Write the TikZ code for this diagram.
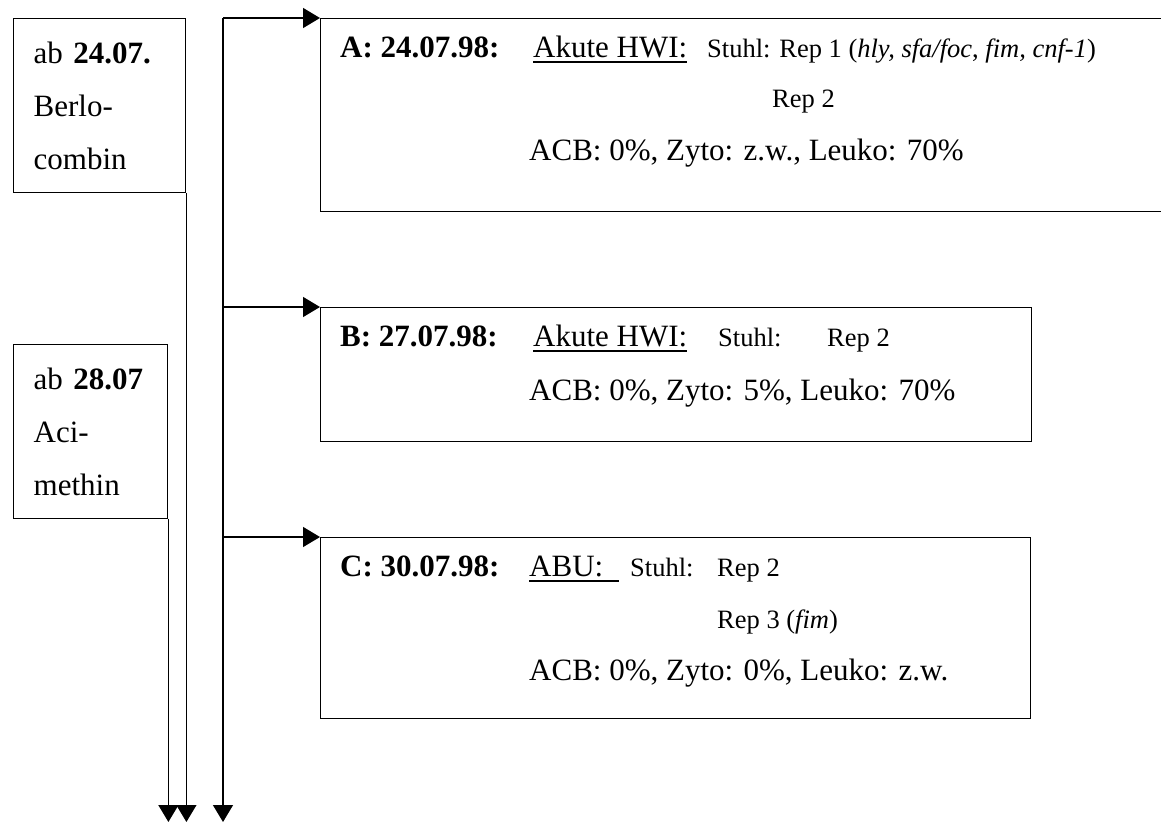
\documentclass[tikz,border=0pt]{standalone}
\usepackage{fontspec}
\setmainfont{Liberation Serif}
\usetikzlibrary{arrows.meta,positioning}
\newcommand{\bigfnt}{\fontsize{31}{53}\selectfont}
\newcommand{\smfnt}{\fontsize{26.5}{32}\selectfont}
\newcommand{\ulin}[1]{\setbox0\hbox{#1}\rlap{\rule[-5.5pt]{\wd0}{1.7pt}}\box0}
\tikzset{
  drug/.style ={draw,line width=1.4pt,align=left,anchor=north west,
                inner xsep=20pt,font=\bigfnt},
  visit/.style={draw,line width=1.4pt,anchor=north west,inner sep=0pt},
  txt/.style  ={anchor=base west,inner sep=0pt,font=\bigfnt},
  stxt/.style ={anchor=base west,inner sep=0pt,font=\smfnt},
  ar/.style   ={-{Triangle[length=17pt,width=20pt]},line width=1.4pt},
}

\begin{document}
\begin{tikzpicture}[x=1pt,y=-1pt]
\clip (0,0) rectangle (1161,823);
% medication boxes (left)
\node[drug,text width=132pt,minimum height=174pt] (berlo) at (13,18)
  {ab \textbf{24.07.}\\Berlo-\\combin};
\node[drug,text width=114pt,minimum height=174pt] (aci) at (13,344)
  {ab \textbf{28.07}\\Aci-\\methin};

% ---- visit boxes ------------------------------------------------------
\node[visit,minimum width=900pt,minimum height=193pt] (A) at (320,18) {};
\node[visit,minimum width=711pt,minimum height=134pt] (B) at (320,307) {};
\node[visit,minimum width=710pt,minimum height=181pt] (C) at (320,537) {};

% visit A
\node[txt] (Adate) at (340,57) {\textbf{A: 24.07.98:}};
\node[txt] (Adiag) at (533,57) {\ulin{Akute HWI:}};
\node[stxt] (Astuhl) at (707,57)
  {Stuhl: Rep 1 (\textit{hly, sfa/foc}, \textit{fim, cnf-1})};
\node[stxt] (Arep) at (772,107) {Rep 2};
\node[txt] (Alab) at (529,160) {ACB: 0\%, Zyto: z.w., Leuko: 70\%};

% visit B
\node[txt] (Bdate) at (340,346) {\textbf{B: 27.07.98:}};
\node[txt] (Bdiag) at (533,346) {\ulin{Akute HWI:}};
\node[stxt] (Bstuhl) at (718,346) {Stuhl:};
\node[stxt] (Brep) at (827,346) {Rep 2};
\node[txt] (Blab) at (529,400) {ACB: 0\%, Zyto: 5\%, Leuko: 70\%};

% visit C
\node[txt] (Cdate) at (340,576) {\textbf{C: 30.07.98:}};
\node[txt] (Cdiag) at (529,576) {\ulin{ABU:~~}};
\node[stxt] (Cstuhl) at (630,576) {Stuhl:};
\node[stxt] (Crep) at (717,576) {Rep 2};
\node[stxt] (Crepb) at (717,628) {Rep 3 (\textit{fim})};
\node[txt] (Clab) at (529,680) {ACB: 0\%, Zyto: 0\%, Leuko: z.w.};

% ---- time lines -------------------------------------------------------
\coordinate (top) at (223,18);
\coordinate (end) at (223,822);
\draw[ar] (top) -- (end);
\draw[ar] (top) -- (A.north west);
\draw[ar] (top |- B.north west) -- (B.north west);
\draw[ar] (top |- C.north west) -- (C.north west);
\draw[ar] (berlo.south east) -- (berlo.south east |- end);
\draw[ar] (aci.south east) -- (aci.south east |- end);
\end{tikzpicture}
\end{document}
